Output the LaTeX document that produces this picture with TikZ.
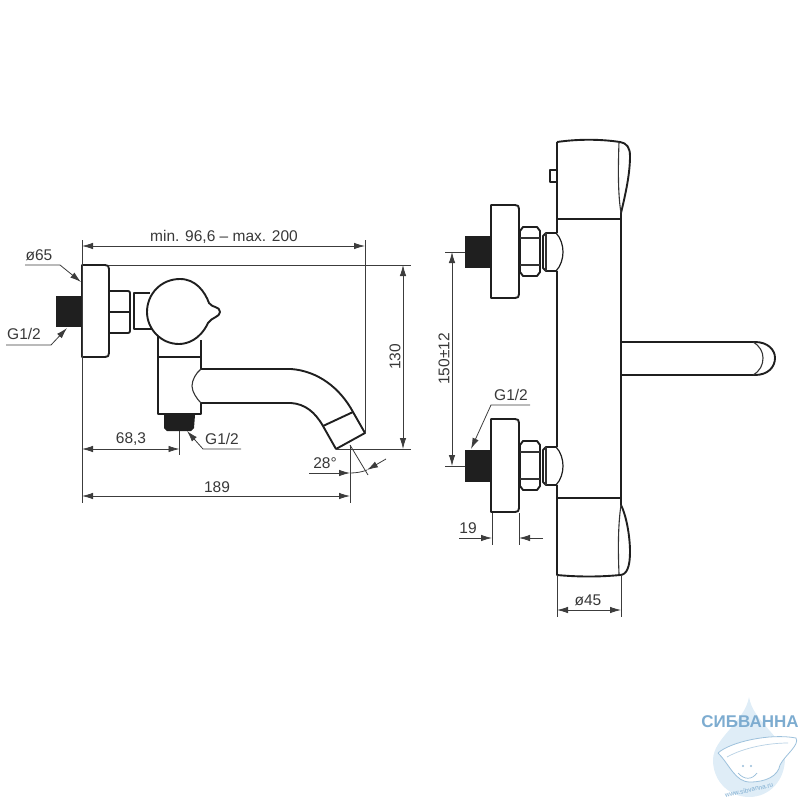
\documentclass[tikz,border=0pt]{standalone}
\usepackage{fontspec}
\setmainfont{Liberation Sans}
\usetikzlibrary{arrows.meta}
\definecolor{dimgray}{RGB}{60,60,60}
\definecolor{waterblue}{RGB}{205,228,243}
\definecolor{logoblue}{RGB}{125,172,208}
\begin{document}
\begin{tikzpicture}
[
    x=1pt, y=-1pt,
    part/.style={draw=black!88, line width=1.9pt, line join=round},
    heavy/.style={draw=black!88, line width=2.6pt},
    slim/.style={draw=black!80, line width=1.1pt},
    solidblock/.style={fill=black!88, draw=none},
    extline/.style={draw=dimgray, line width=.8pt},
    dimline/.style={draw=dimgray, line width=.8pt, -{Latex[length=11pt,width=6.5pt]}},
    dimboth/.style={draw=dimgray, line width=.8pt, {Latex[length=11pt,width=6.5pt]}-{Latex[length=11pt,width=6.5pt]}},
    label/.style={font=\fontsize{15.5}{17}\selectfont, text=black!78, inner sep=0pt},
]
\useasboundingbox (0,0) rectangle (800,800);

% watermark
\fill[waterblue!65] (749,697) .. controls (745,722) and (713,738) .. (713,760)
    .. controls (713,782) and (730,797) .. (749,797)
    .. controls (770,797) and (785,780) .. (785,758)
    .. controls (785,738) and (753,722) .. (749,697);
\filldraw[fill=white, draw=logoblue!75, line width=.8pt] (718,753) .. controls (730,742) and (770,733) .. (796,738)
    .. controls (800,745) and (785,755) .. (780,765)
    .. controls (778,776) and (766,782) .. (750,782)
    .. controls (735,782) and (730,765) .. (718,753);
\draw[logoblue!55, line width=.7pt] (727,757) .. controls (745,747) and (770,743) .. (788,743);
\fill[logoblue!80] (743,766) circle (1.2) (751,766) circle (1.2);
\draw[logoblue!80, line width=.7pt] (738,773) .. controls (744,780) and (752,780) .. (757,773);
\node (logotext) [font=\bfseries\fontsize{17}{18}\selectfont, text=logoblue, inner sep=0pt] at (750,722) {СИБВАННА};
\node (logourl) [font=\fontsize{6.5}{7}\selectfont, text=logoblue, inner sep=0pt, rotate=13] at (749,790) {www.sibvanna.ru};

% left view: wall plate and connection
\fill[solidblock] (56,296) rectangle (82,327);
\draw[part] (82,265) -- (105,265) .. controls (108,265) and (109,266) .. (109,269) -- (109,353)
    .. controls (109,356) and (108,357) .. (105,357) -- (82,357) -- cycle;
\draw[part, rounded corners=2pt] (110,291) -- (130,291) -- (130,333) -- (110,333);
\draw[heavy] (110,312) -- (130,312);
\draw[part] (150,293) -- (134,293) -- (134,329) -- (152,329);
% left view: body and lever
\draw[part] (158,335) -- (158,414) -- (201,414) -- (201,403);
\draw[part] (201,369) -- (201,340);
\draw[heavy] (158,357) -- (201,357);
\draw[part, fill=white] (208,323) .. controls (200,340) and (187,344) .. (179,344)
    .. controls (161,344) and (147,329) .. (147,312)
    .. controls (147,294) and (161,279) .. (180,279)
    .. controls (196,279) and (205,292) .. (209,303)
    .. controls (212,308) and (220,306) .. (220,312)
    .. controls (220,317) and (212,317) .. (208,323) -- cycle;
\fill[solidblock] (164,415) -- (195,415) -- (194,428) -- (191,431) -- (167,431) -- (164,428) -- cycle;
% left view: spout
\draw[heavy] (201,369) -- (291,369);
\draw[heavy] (201,403) -- (291,403);
\draw[part] (291,369) .. controls (318,371) and (340,388) .. (353,412) -- (365,433) -- (336,449) -- (323,426)
    .. controls (315,412) and (305,404) .. (291,403);
\draw[part] (323,426) -- (353,412);
\draw[slim] (201,369) .. controls (196,373) and (192,380) .. (192,386) .. controls (192,392) and (197,399) .. (201,403);

% left view: dimensions
\draw[extline] (82,240) -- (82,503);
\draw[extline] (365,240) -- (365,433);
\draw[extline] (109,265) -- (411,265);
\draw[extline] (336,449) -- (411,449);
\draw[dimboth] (82,246) -- (365,246);
\node (spanlabel) [label] at (224,237) {min. 96,6 – max. 200};
\draw[dimboth] (403,265) -- (403,449);
\node (heightlabel) [label, rotate=90] at (395,357) {130};
\draw[extline] (179.5,431) -- (179.5,455);
\draw[dimboth] (82,449) -- (179.5,449);
\node (outletlabel) [label] at (131,439) {68,3};
\draw[extline] (350,445) -- (350,503);
\draw[dimboth] (82,496) -- (350,496);
\node (reachlabel) [label] at (217,487) {189};
\node (anglelabel) [label] at (325,463) {28°};
\draw[extline] (350,445) -- (368,475);
\draw[dimline] (309,473) -- (350,473);
\draw[extline] (350,473) .. controls (356,473) and (362,472) .. (367,470);
\draw[dimline] (386,459) -- (367,470);
% left view: leaders
\node (platelabel) [label] at (39,255) {ø65};
\draw[dimline] (25,265) -- (60,265) -- (81,282);
\node (inletlabel) [label] at (24,334) {G1/2};
\draw[dimline] (6,345) -- (51,345) -- (67,328);
\node (threadlabel) [label] at (222,439) {G1/2};
\draw[dimline] (241,449) -- (203,449) -- (187,431);

% right view: main body
\draw[part] (557,142) .. controls (578,139) and (600,139) .. (620,142) .. controls (627,143) and (630,148) .. (630,156)
    .. controls (630,175) and (625,196) .. (621,213);
\draw[part] (557,142) -- (557,575) .. controls (578,577) and (600,577) .. (620,575) .. controls (627,575) and (630,566) .. (630,552)
    .. controls (630,535) and (626,515) .. (621,505);
\draw[slim] (619,142) .. controls (618,170) and (618,195) .. (621,213);
\draw[slim] (619,574) .. controls (618,550) and (618,525) .. (621,505);
\draw[part] (621,213) -- (621,505);
\draw[heavy] (557,219) -- (621,219);
\draw[heavy] (557,498) -- (621,498);
\draw[part, line width=1.4pt] (557,170) -- (550,170) -- (550,182) -- (557,182);
% right view: spout
\draw[part] (621,342) -- (755,342) .. controls (768,342) and (775,350) .. (775,358) .. controls (775,367) and (768,375) .. (755,375) -- (621,375);
\draw[slim] (753,342) .. controls (760,346) and (763,352) .. (763,358) .. controls (763,365) and (760,371) .. (753,375);

% right view: both connections
\foreach \yshift/\rname in {0/upper, 214/lower}
{
    \begin{scope}[yshift=-\yshift pt]
    \fill[solidblock] (465,236) rectangle (491,268);
    \draw[part] (491,205) -- (515,205) .. controls (518,205) and (519,206) .. (519,209) -- (519,294)
        .. controls (519,297) and (518,298) .. (515,298) -- (491,298) -- cycle;
    \draw[part] (520,231) -- (523,227) -- (537,227) -- (540,231) -- (540,272) -- (537,276) -- (523,276) -- (520,272) -- cycle;
    \draw[slim] (520,238) -- (540,238);
    \draw[slim] (520,265) -- (540,265);
    \fill[white] (543,233) rectangle (559,271);
    \draw[part] (557,233) -- (546,233) -- (543,236) -- (543,268) -- (546,271) -- (557,271);
    \draw[slim] (546,233) -- (546,271);
    \draw[part, line width=1.2pt] (556,233) .. controls (561,238) and (563,246) .. (563,252) .. controls (563,258) and (561,266) .. (556,271);
    \end{scope}
}

% right view: dimensions
\draw[extline] (445,252) -- (465,252);
\draw[extline] (445,466) -- (465,466);
\draw[dimboth] (452,252) -- (452,466);
\node (spacinglabel) [label, rotate=90] at (444,359) {150±12};
\node (wallthread) [label] at (511,395) {G1/2};
\draw[dimline] (530,405) -- (491,405) -- (471,449);
\draw[extline] (492,513) -- (492,545);
\draw[extline] (519,513) -- (519,545);
\draw[dimline] (459,538) -- (492,538);
\draw[dimline] (543,538) -- (519,538);
\node (flangelabel) [label] at (468,528) {19};
\draw[extline] (557,575) -- (557,617);
\draw[extline] (621,575) -- (621,617);
\draw[dimboth] (557,610) -- (621,610);
\node (bodylabel) [label] at (588,600) {ø45};
\end{tikzpicture}
\end{document}
